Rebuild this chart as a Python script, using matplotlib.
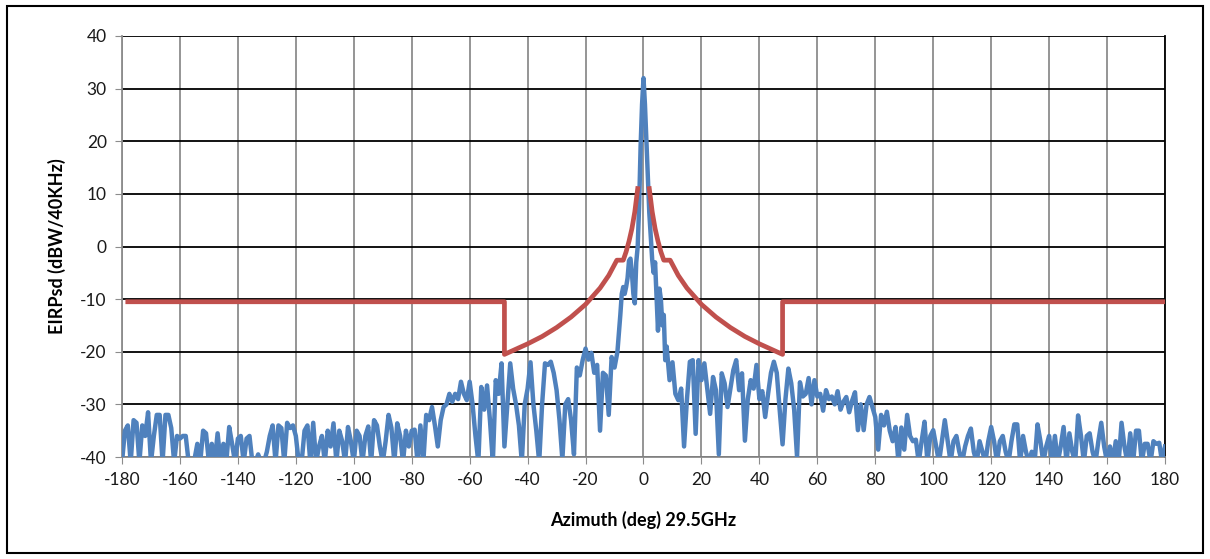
import matplotlib.pyplot as plt
from matplotlib.patches import Rectangle

az_left = list(range(-180, -8))
eirp_left = [
    -41, -35, -34, -41, -33, -33.5, -41, -34, -36, -31.5,
    -41, -36, -32, -32, -41, -32, -32, -34.5, -41, -36,
    -36.5, -36, -36, -41, -41, -40.5, -37.5, -41, -35, -35.5,
    -41, -37.5, -41, -35.5, -41, -37.5, -41, -34.3, -37.5, -41,
    -36.5, -36, -41, -36.5, -36, -41, -41, -39.5, -41, -41,
    -39, -36, -34, -41, -34, -34.5, -41, -33.5, -34.5, -34,
    -36, -41, -41, -35, -34, -41, -33.5, -41, -38, -36,
    -41, -35, -38, -33.6, -41, -35, -37, -41, -34.3, -37,
    -41, -35, -36, -41, -36, -34.2, -41, -33, -34, -38,
    -41, -37, -32, -34.5, -41, -33.6, -36, -41, -35, -38,
    -35, -34.8, -41, -34, -41, -32, -33, -30.5, -34, -38,
    -33, -30.5, -30, -28, -29.5, -28, -29, -25.7, -28, -29.2,
    -25.7, -30, -36, -41, -26.7, -31, -26.4, -33, -41, -25.4,
    -28, -22.2, -38, -30, -22.2, -27, -30, -34, -41, -30,
    -27, -22, -30, -35, -41, -30, -22.2, -22.5, -21.9, -24,
    -27.3, -33, -40.5, -30, -29, -33, -39.5, -23, -24.5, -21.6,
    -19.4, -21.5, -20.2, -24, -22.5, -35, -24, -24.5, -32, -21,
    -23, -20,
]
az_mid = [-8, -7.5, -7, -6.5, -6, -5.5, -5, -4.5, -4, -3.5, -3, -2.5, -2,
          -1.5, -1, -0.5, 0, 0.5, 1, 1.5, 2, 2.5, 3, 3.5, 4, 4.5, 5, 5.5,
          6, 6.5, 7, 7.5, 8]
eirp_mid = [-13, -9, -7.7, -9, -7.7, -6, -2.7, -2.3, -5, -9, -10.8, -3, 0,
            8, 19, 27, 32, 27, 20, 12.8, 6.4, 2, -2.5, -5, -3, -9.5, -16, -8,
            -10, -15, -13, -21.6, -19]
az_right = list(range(9, 181))
eirp_right = [
    -25.4, -22, -28, -29.2, -27, -38, -29, -21.9, -21.6, -35.6,
    -21.6, -25.4, -22.2, -27, -31.8, -24.8, -27.3, -39.5, -24.1, -26,
    -30.5, -27, -23.5, -21.6, -27.3, -24.1, -36.9, -29, -25.4, -27,
    -22.5, -29, -27.5, -32.4, -28, -24, -21.9, -24, -31, -37.6,
    -29, -23.2, -26, -31, -40, -25.8, -28.5, -28, -25, -30,
    -25.4, -28.5, -28, -31.2, -27.3, -29, -28.5, -30, -27.5, -31,
    -29.5, -28.6, -31.5, -29.3, -27.7, -34.9, -30, -34.9, -30, -28.6,
    -30.5, -32.4, -38.6, -32, -34, -31.4, -35, -37, -34.3, -41,
    -34.4, -38.6, -32, -36, -37, -36.7, -41, -37, -33.3, -41,
    -36, -34.9, -38, -41, -37, -33, -37, -41, -37, -36,
    -39, -41, -38, -36, -34.6, -39, -41, -37, -39, -41,
    -37, -34.3, -37, -41, -37, -36, -39, -41, -37, -33.8,
    -33.8, -41, -36, -39, -41, -39, -41, -33.8, -37, -41,
    -38, -36, -41, -36, -41, -38, -34.3, -41, -35.5, -39,
    -41, -32.1, -36, -41, -36, -35.5, -39, -41, -37, -33.5,
    -38, -41, -38, -41, -37, -41, -33.5, -38, -41, -35.5,
    -41, -35, -35, -41, -37.5, -37.5, -41, -37, -37.5, -37.3,
    -41, -38,
]
azimuth = az_left + az_mid + az_right
eirp = eirp_left + eirp_mid + eirp_right

# off-axis EIRP density mask (red), two branches either side of boresight
mask_az_l = [-178, -48, -48, -40, -35, -30, -25, -20, -15, -12, -9.2, -7,
             -6, -5, -4, -3, -2]
mask_l = [-10.5, -10.5, -20.5, -18.5, -17.1, -15.4, -13.4, -11.0, -7.9,
          -5.5, -2.6, -2.6, -1.0, 1.0, 3.4, 6.6, 11.0]
mask_az_r = [2, 3, 4, 5, 6, 7, 9.2, 12, 15, 20, 25, 30, 35, 40, 48, 48, 180]
mask_r = [11.0, 6.6, 3.4, 1.0, -1.0, -2.6, -2.6, -5.5, -7.9, -11.0, -13.4,
          -15.4, -17.1, -18.5, -20.5, -10.5, -10.5]

plt.rcParams['font.family'] = ['Lato', 'DejaVu Sans']
plt.rcParams['axes.unicode_minus'] = False

fig = plt.figure(figsize=(12.1, 5.59), dpi=100)
ax = fig.add_axes([122 / 1210, 1 - 457 / 559, (1165 - 122) / 1210, (457 - 36) / 559])

ax.plot(azimuth, eirp, color='#4F81BD', lw=3.2, zorder=3, solid_joinstyle='round')
ax.plot(mask_az_l, mask_l, color='#C0504D', lw=3.4, zorder=4)
ax.plot(mask_az_r, mask_r, color='#C0504D', lw=3.4, zorder=4)

ax.set_xlim(-180, 180)
ax.set_ylim(-40, 40)
ax.set_xticks(range(-180, 181, 20))
ax.set_yticks(range(-40, 41, 10))

# excel look: black horizontal grid, grey vertical grid
ax.yaxis.grid(True, color='black', lw=1.3, zorder=1)
ax.xaxis.grid(True, color='#8c8c8c', lw=1.3, zorder=1)
ax.set_axisbelow(True)
ax.spines['top'].set_visible(False)
ax.spines['right'].set_color('black')
ax.spines['right'].set_linewidth(1.3)
for side in ['left', 'bottom']:
    ax.spines[side].set_color('#8c8c8c')
    ax.spines[side].set_linewidth(1.3)
ax.tick_params(axis='both', direction='out', length=5, color='#8c8c8c',
               labelsize=12.5, labelcolor='#1a1a1a', pad=6)

ax.set_xlabel('Azimuth (deg) 29.5GHz', fontsize=13, fontweight='bold', labelpad=16)
ax.set_ylabel('EIRPsd (dBW/40KHz)', fontsize=13, fontweight='bold', labelpad=10)

# outer chart border
fig.patches.append(Rectangle((7 / 1210, 1 - 553 / 559), (1203 - 7) / 1210, (553 - 6) / 559,
                             transform=fig.transFigure, fill=False,
                             edgecolor='black', lw=1.5))

fig.savefig('out.png', dpi=100)
